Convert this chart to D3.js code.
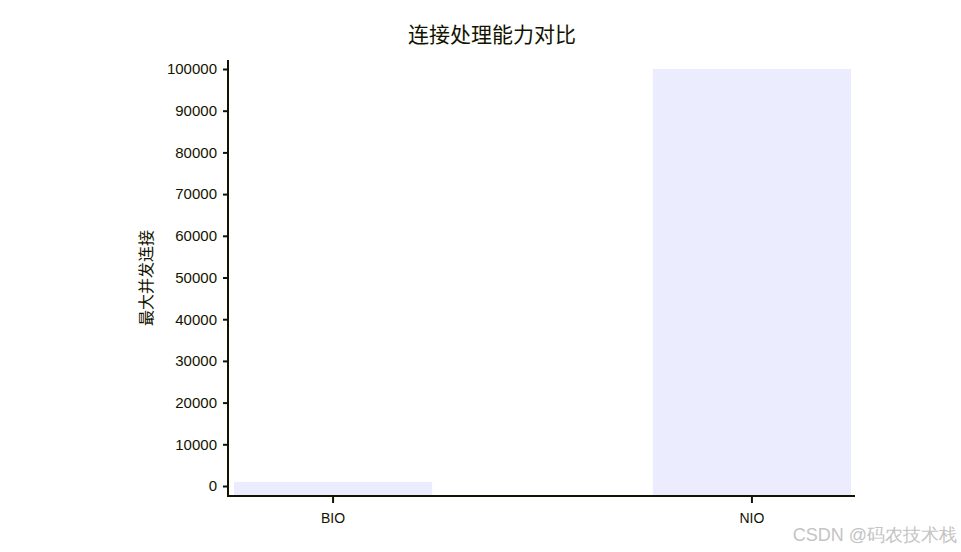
<!DOCTYPE html>
<html>
<head>
<meta charset="utf-8">
<script src="https://cdn.jsdelivr.net/npm/d3@7"></script>
<style>
  body { margin: 0; background: #fff; }
  text { fill: #131300; }
</style>
</head>
<body>
<div id="chart"></div>
<script>
var svgWidth = 961;
var svgHeight = 552;

var title = "连接处理能力对比";
var yLabel = "最大并发连接";
var categories = ["BIO", "NIO"];
var values = [1000, 100000];
var yTicks = [0, 10000, 20000, 30000, 40000, 50000, 60000, 70000, 80000, 90000, 100000];

var axisColor = "#131300";
var barColor = "#ECECFF";
var latin = "'Liberation Sans', Arial, sans-serif";
var cjk = "'Noto Sans CJK SC', sans-serif";

var svg = d3.select("#chart")
    .append("svg")
    .attr("width", svgWidth)
    .attr("height", svgHeight);

// plot frame
var plotLeft = 228, plotRight = 855, plotTop = 60, plotBottom = 496;

var x = d3.scaleBand()
    .domain(categories)
    .range([234, 851])
    .paddingInner(0.527)
    .paddingOuter(0);

var y = d3.scaleLinear()
    .domain([0, 100000])
    .range([486, 69]);

// bars start at the bottom of the plot area
svg.selectAll("rect.bar")
    .data(categories)
    .enter()
    .append("rect")
    .attr("class", "bar")
    .attr("x", d => x(d))
    .attr("width", x.bandwidth())
    .attr("y", (d, i) => y(values[i]))
    .attr("height", (d, i) => plotBottom - y(values[i]))
    .attr("fill", barColor);

// y axis
var yAxis = svg.append("g")
    .attr("transform", `translate(${plotLeft},0)`)
    .call(d3.axisLeft(y).tickValues(yTicks).tickFormat(d3.format("d")).tickSize(6).tickSizeOuter(0));
yAxis.select(".domain").remove();
yAxis.append("line")
    .attr("x1", 0).attr("x2", 0)
    .attr("y1", plotTop).attr("y2", plotBottom + 1)
    .attr("stroke", axisColor).attr("stroke-width", 2);
yAxis.selectAll(".tick line").attr("stroke", axisColor).attr("stroke-width", 2).attr("x2", -5);
yAxis.selectAll(".tick text")
    .attr("x", -11)
    .attr("font-size", 15)
    .style("font-family", latin)
    .style("fill", axisColor);

// x axis
var xAxis = svg.append("g")
    .attr("transform", `translate(0,${plotBottom})`)
    .call(d3.axisBottom(x).tickSize(6).tickSizeOuter(0));
xAxis.select(".domain").remove();
xAxis.append("line")
    .attr("x1", plotLeft - 1).attr("x2", plotRight)
    .attr("y1", 0).attr("y2", 0)
    .attr("stroke", axisColor).attr("stroke-width", 2);
xAxis.selectAll(".tick line").attr("stroke", axisColor).attr("stroke-width", 2).attr("y2", 7);
xAxis.selectAll(".tick text")
    .attr("y", 17)
    .attr("font-size", 14)
    .style("font-family", latin)
    .style("fill", axisColor);

// title
svg.append("text")
    .attr("x", 492)
    .attr("y", 42)
    .attr("text-anchor", "middle")
    .attr("font-size", 21)
    .style("font-family", cjk)
    .text(title);

// y label
svg.append("text")
    .attr("transform", "translate(152,278) rotate(-90)")
    .attr("text-anchor", "middle")
    .attr("font-size", 16)
    .style("font-family", cjk)
    .text(yLabel);

// watermark
svg.append("text")
    .attr("x", 957)
    .attr("y", 541)
    .attr("text-anchor", "end")
    .attr("font-size", 18)
    .style("font-family", latin)
    .style("fill", "#c4c4c4")
    .text("CSDN @码农技术栈");
</script>
</body>
</html>
